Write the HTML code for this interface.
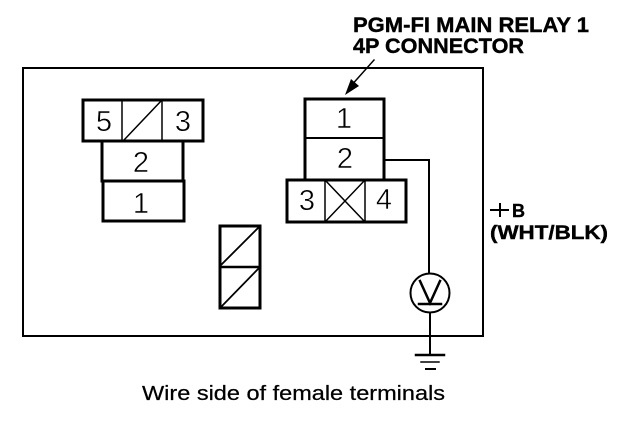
<!DOCTYPE html>
<html>
<head>
<meta charset="utf-8">
<style>
html,body{margin:0;padding:0;background:#fff;width:640px;height:422px;overflow:hidden}
svg{display:block}
text{font-family:"Liberation Sans",sans-serif;fill:#000}
.n{font-size:29px;text-anchor:middle;stroke:#fff;stroke-width:.5px}
.b{font-weight:bold;stroke:#000;stroke-width:.4px}
.c{stroke:#000;stroke-width:.25px}
</style>
</head>
<body>
<svg width="640" height="422" viewBox="0 0 640 422" xmlns="http://www.w3.org/2000/svg">
<g fill="none" stroke="#000" stroke-linecap="square">
<path d="M23 68H483V336H23Z" stroke-width="2"/>
<path d="M83 100H203V141H83Z" stroke-width="3"/>
<path d="M122 100V141M162 100V141M84 141H202" stroke-width="1.5"/>
<path d="M124 140L161 101" stroke-width="1.5"/>
<path d="M102 141V181H183V141" stroke-width="3"/>
<path d="M103 181V221H184V181" stroke-width="3"/>
<path d="M103 181H183" stroke-width="2"/>
<path d="M220 226H260V308H220Z" stroke-width="3"/>
<path d="M220 267H260" stroke-width="2.5"/>
<path d="M221 265L259 227M221 307L259 268" stroke-width="1.8"/>
<path d="M305 99H384V179M305 99V179" stroke-width="3"/>
<path d="M305 138H384" stroke-width="2"/>
<path d="M287 180H406V222H287Z" stroke-width="3"/>
<path d="M325 180V222M365 180V222M325 180L365 222M365 180L325 222" stroke-width="1.5"/>
<path d="M385 160H429V273" stroke-width="2"/>
<circle cx="430" cy="293" r="19.5" stroke-width="2"/>
<path d="M420 281L430 303L440 281" stroke-width="2.5"/>
<path d="M419 304H441" stroke-width="2.5"/>
<path d="M430 313V355" stroke-width="2"/>
<path d="M416 355H444" stroke-width="2.5"/>
<path d="M421 362H439" stroke-width="1.5"/>
<path d="M426 369H435" stroke-width="2"/>
<path d="M374 60L350 87" stroke-width="1.5"/>
</g>
<path d="M345 95L351 79L359 86Z" fill="#000"/>
<text class="n" x="104" y="131">5</text>
<text class="n" x="183" y="131">3</text>
<text class="n" x="141" y="172">2</text>
<text class="n" x="141" y="213">1</text>
<text class="n" x="344" y="128">1</text>
<text class="n" x="345" y="168">2</text>
<text class="n" x="307" y="210">3</text>
<text class="n" x="384" y="209">4</text>
<text class="b" x="353" y="32" font-size="21" textLength="236" lengthAdjust="spacingAndGlyphs">PGM-FI MAIN RELAY 1</text>
<text class="b" x="353" y="53" font-size="21" textLength="171" lengthAdjust="spacingAndGlyphs">4P CONNECTOR</text>
<path d="M490 210H509M500 203V217" fill="none" stroke="#000" stroke-width="2"/>
<text class="b" x="512" y="217" font-size="18">B</text>
<text class="b" x="490" y="239" font-size="19" textLength="118" lengthAdjust="spacingAndGlyphs">(WHT/BLK)</text>
<text class="c" x="142" y="400" font-size="20.5" textLength="303" lengthAdjust="spacingAndGlyphs">Wire side of female terminals</text>
</svg>
</body>
</html>
